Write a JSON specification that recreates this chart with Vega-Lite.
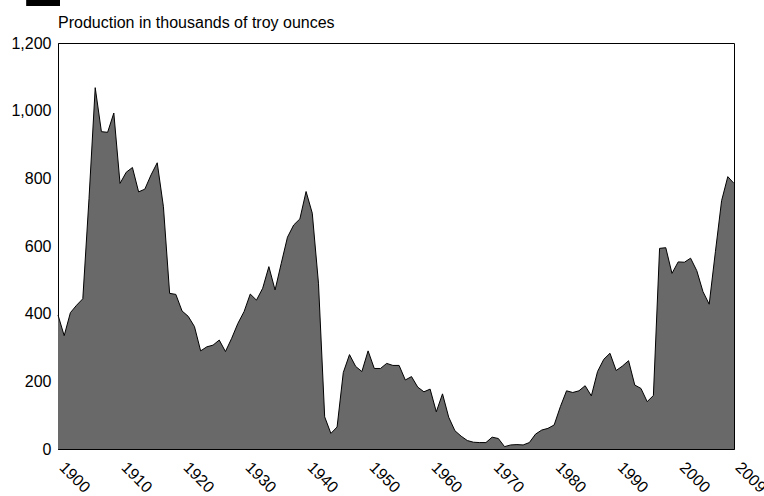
{
  "$schema": "https://vega.github.io/schema/vega-lite/v6.json",
  "autosize": "none",
  "width": 676,
  "height": 406,
  "padding": {"left": 58, "top": 43, "right": 30, "bottom": 47},
  "background": "white",
  "config": {
    "font": "Liberation Sans",
    "view": {"stroke": "black", "strokeWidth": 1},
    "axis": {"domainColor": "black", "labelColor": "black", "labelFont": "Liberation Sans", "labelFontSize": 16, "grid": false, "ticks": false}
  },
  "title": {
    "text": "Production in thousands of troy ounces",
    "anchor": "start",
    "frame": "group",
    "font": "Liberation Sans",
    "fontSize": 16,
    "fontWeight": "normal",
    "color": "black",
    "baseline": "alphabetic",
    "offset": -44
  },
  "data": {
    "values": [
      {"year": 1900, "oz": 396}, {"year": 1901, "oz": 335}, {"year": 1902, "oz": 403}, {"year": 1903, "oz": 425}, {"year": 1904, "oz": 444},
      {"year": 1905, "oz": 740}, {"year": 1906, "oz": 1068}, {"year": 1907, "oz": 938}, {"year": 1908, "oz": 936}, {"year": 1909, "oz": 993},
      {"year": 1910, "oz": 785}, {"year": 1911, "oz": 818}, {"year": 1912, "oz": 832}, {"year": 1913, "oz": 760}, {"year": 1914, "oz": 768},
      {"year": 1915, "oz": 810}, {"year": 1916, "oz": 846}, {"year": 1917, "oz": 716}, {"year": 1918, "oz": 460}, {"year": 1919, "oz": 457},
      {"year": 1920, "oz": 408}, {"year": 1921, "oz": 392}, {"year": 1922, "oz": 362}, {"year": 1923, "oz": 290}, {"year": 1924, "oz": 302},
      {"year": 1925, "oz": 307}, {"year": 1926, "oz": 322}, {"year": 1927, "oz": 288}, {"year": 1928, "oz": 327}, {"year": 1929, "oz": 371},
      {"year": 1930, "oz": 406}, {"year": 1931, "oz": 458}, {"year": 1932, "oz": 440}, {"year": 1933, "oz": 475}, {"year": 1934, "oz": 539},
      {"year": 1935, "oz": 470}, {"year": 1936, "oz": 549}, {"year": 1937, "oz": 626}, {"year": 1938, "oz": 662}, {"year": 1939, "oz": 680},
      {"year": 1940, "oz": 761}, {"year": 1941, "oz": 697}, {"year": 1942, "oz": 490}, {"year": 1943, "oz": 95}, {"year": 1944, "oz": 46},
      {"year": 1945, "oz": 65}, {"year": 1946, "oz": 226}, {"year": 1947, "oz": 279}, {"year": 1948, "oz": 244}, {"year": 1949, "oz": 229},
      {"year": 1950, "oz": 290}, {"year": 1951, "oz": 238}, {"year": 1952, "oz": 238}, {"year": 1953, "oz": 253}, {"year": 1954, "oz": 247},
      {"year": 1955, "oz": 247}, {"year": 1956, "oz": 204}, {"year": 1957, "oz": 214}, {"year": 1958, "oz": 183}, {"year": 1959, "oz": 169},
      {"year": 1960, "oz": 177}, {"year": 1961, "oz": 110}, {"year": 1962, "oz": 163}, {"year": 1963, "oz": 94}, {"year": 1964, "oz": 54},
      {"year": 1965, "oz": 38}, {"year": 1966, "oz": 25}, {"year": 1967, "oz": 20}, {"year": 1968, "oz": 19}, {"year": 1969, "oz": 19},
      {"year": 1970, "oz": 35}, {"year": 1971, "oz": 31}, {"year": 1972, "oz": 7}, {"year": 1973, "oz": 12}, {"year": 1974, "oz": 13},
      {"year": 1975, "oz": 12}, {"year": 1976, "oz": 19}, {"year": 1977, "oz": 44}, {"year": 1978, "oz": 56}, {"year": 1979, "oz": 61},
      {"year": 1980, "oz": 71}, {"year": 1981, "oz": 125}, {"year": 1982, "oz": 172}, {"year": 1983, "oz": 167}, {"year": 1984, "oz": 172},
      {"year": 1985, "oz": 187}, {"year": 1986, "oz": 157}, {"year": 1987, "oz": 229}, {"year": 1988, "oz": 265}, {"year": 1989, "oz": 283},
      {"year": 1990, "oz": 232}, {"year": 1991, "oz": 245}, {"year": 1992, "oz": 261}, {"year": 1993, "oz": 189}, {"year": 1994, "oz": 179},
      {"year": 1995, "oz": 140}, {"year": 1996, "oz": 158}, {"year": 1997, "oz": 593}, {"year": 1998, "oz": 595}, {"year": 1999, "oz": 519},
      {"year": 2000, "oz": 553}, {"year": 2001, "oz": 552}, {"year": 2002, "oz": 564}, {"year": 2003, "oz": 527}, {"year": 2004, "oz": 465},
      {"year": 2005, "oz": 428}, {"year": 2006, "oz": 583}, {"year": 2007, "oz": 734}, {"year": 2008, "oz": 805}, {"year": 2009, "oz": 785}
    ]
  },
  "layer": [
    {
      "mark": {"type": "area", "color": "#696969", "opacity": 1, "fillOpacity": 1, "line": {"color": "black", "strokeWidth": 1}},
      "encoding": {
        "x": {
          "field": "year", "type": "quantitative",
          "scale": {"domain": [1900, 2009], "nice": false, "zero": false},
          "axis": {"title": null, "values": [1900, 1910, 1920, 1930, 1940, 1950, 1960, 1970, 1980, 1990, 2000, 2009], "format": "d", "labelAngle": 45, "labelAlign": "left", "labelBaseline": "alphabetic", "labelPadding": 19, "labelFlush": false, "labelOverlap": false, "domain": true}
        },
        "y": {
          "field": "oz", "type": "quantitative",
          "scale": {"domain": [0, 1200], "nice": false},
          "axis": {"title": null, "values": [0, 200, 400, 600, 800, 1000, 1200], "format": ",d", "labelPadding": 7, "labelFlush": false, "domain": true}
        }
      }
    },
    {
      "mark": {"type": "rect", "color": "black", "clip": false},
      "encoding": {
        "x": {"datum": 1895},
        "x2": {"datum": 1900.3},
        "y": {"datum": 1327},
        "y2": {"datum": 1309}
      }
    }
  ]
}
